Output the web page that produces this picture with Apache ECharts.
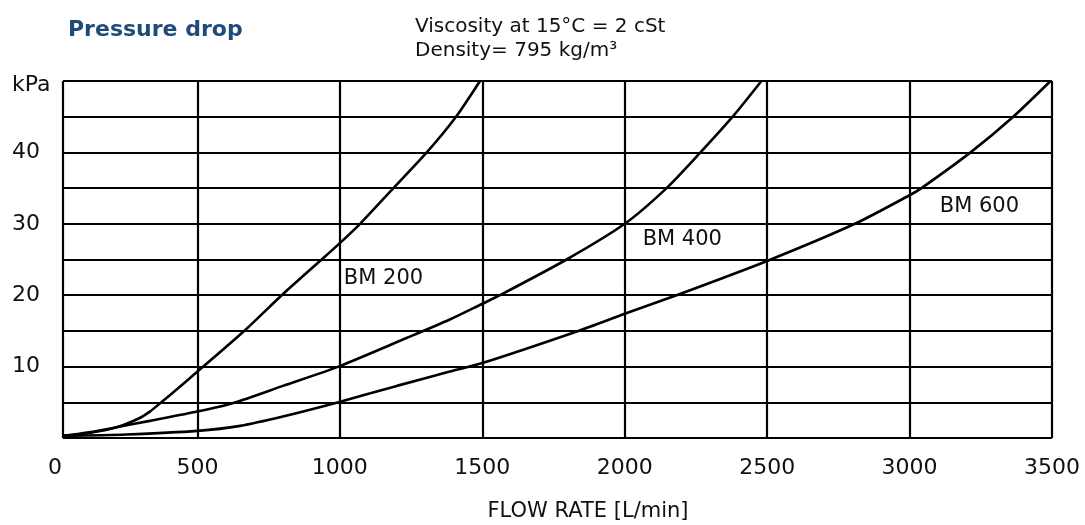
<!DOCTYPE html>
<html>
<head>
<meta charset="utf-8">
<script src="https://cdn.jsdelivr.net/npm/echarts@6/dist/echarts.min.js"></script>
<style>
html,body{margin:0;padding:0;background:#fff;}
#chart{width:1085px;height:525px;}
</style>
</head>
<body>
<div id="chart"></div>
<script>
// ---- data ----
const seriesNames = ['BM 200', 'BM 400', 'BM 600'];
const bm200 = [[28,0.3],[120,0.7],[216,1.5],[292,2.7],[333,3.7],[370,4.9],[430,6.9],[500,9.3],[667,15.1],[796,20],[936,25],[1000,27.3],[1071,30],[1188,35],[1305,40],[1408,45],[1492,50]];
const bm400 = [[28,0.3],[120,0.8],[216,1.5],[333,2.4],[500,3.7],[626,4.9],[800,7.3],[995,10],[1234,14],[1386,16.6],[1500,18.8],[1562,20],[1796,25],[2000,30],[2147,35],[2266,40],[2379,45],[2480,50]];
const bm600 = [[28,0.3],[250,0.5],[500,1.0],[650,1.7],[800,3.0],[995,5.0],[1200,7.3],[1386,9.3],[1500,10.5],[1837,15],[2000,17.4],[2182,20],[2500,24.8],[2808,30],[3000,34],[3042,35],[3214,40],[3364,45],[3495,50]];
const labelAnchors = [[1014,22.3],[2063,27.8],[3106,32.35]];
const xTicks = [0,500,1000,1500,2000,2500,3000,3500];
const yGridValues = [0,5,10,15,20,25,30,35,40,45,50];
const yLabelValues = [10,20,30,40];
const yUnit = 'kPa';
const frameLeft = 28;   // flow value where the drawn frame begins
const xMax = 3500, yMax = 50;
const titleText = 'Pressure drop';
const noteLines = ['Viscosity at 15°C = 2 cSt', 'Density= 795 kg/m³'];
const xName = 'FLOW RATE [L/min]';

// ---- chart ----
const FONT = '"DejaVu Sans", sans-serif';
const INK = '#111';
const chart = echarts.init(document.getElementById('chart'), null, {renderer:'canvas'});

const frameLines = yGridValues.map(v => [{coord:[frameLeft, v]}, {coord:[xMax, v]}]);
frameLines.push([{coord:[frameLeft, 0]}, {coord:[frameLeft, yMax]}]);

const curve = (name, data) => ({
  name, type:'line', data, showSymbol:false, symbol:'none',
  smooth:0.25, silent:true, z:3,
  lineStyle:{color:'#000', width:2.6}
});

chart.setOption({
  animation:false,
  backgroundColor:'#fff',
  grid:{left:55, right:33, top:81, bottom:87, containLabel:false},
  xAxis:{
    type:'value', min:0, max:xMax, interval:500,
    axisLine:{show:false}, axisTick:{show:false},
    axisLabel:{color:INK, fontFamily:FONT, fontSize:22, margin:19,
      formatter:v => xTicks.includes(v) ? String(v) : ''},
    splitLine:{show:true, showMinLine:false, showMaxLine:true, lineStyle:{color:'#000', width:2.2}}
  },
  yAxis:{
    type:'value', min:0, max:yMax, interval:5,
    axisLine:{show:false}, axisTick:{show:false},
    splitLine:{show:false},
    axisLabel:{color:INK, fontFamily:FONT, fontSize:22, align:'left', margin:43,
      formatter:v => v === yMax ? '{k|' + yUnit + '}' : (yLabelValues.includes(v) ? String(v) : ''),
      rich:{k:{color:INK, fontFamily:FONT, fontSize:22, padding:[8,0,0,0]}}}
  },
  series:[
    {
      type:'line', data:[], silent:true, z:2,
      markLine:{silent:true, symbol:['none','none'], label:{show:false},
        lineStyle:{color:'#000', width:2.2, type:'solid'}, data:frameLines, animation:false}
    },
    curve(seriesNames[0], bm200),
    curve(seriesNames[1], bm400),
    curve(seriesNames[2], bm600),
    {
      type:'scatter', symbolSize:0, silent:true, z:4,
      itemStyle:{opacity:1},
      data:labelAnchors.map((p,i) => ({value:p, name:seriesNames[i]})),
      label:{show:true, position:'right', distance:0, formatter:p => p.name,
        color:INK, opacity:1, fontFamily:FONT, fontSize:21}
    }
  ],
  graphic:[
    {type:'text', x:68, y:30, style:{text:titleText, font:'bold 22px ' + FONT, fill:'#1e4b78', verticalAlign:'middle'}},
    {type:'text', x:415, y:27, style:{text:noteLines[0], font:'20px ' + FONT, fill:INK, verticalAlign:'middle'}},
    {type:'text', x:415, y:51, style:{text:noteLines[1], font:'20px ' + FONT, fill:INK, verticalAlign:'middle'}},
    {type:'text', x:588, y:512, style:{text:xName, font:'21px ' + FONT, fill:INK, align:'center', verticalAlign:'middle'}}
  ]
});
</script>
</body>
</html>
